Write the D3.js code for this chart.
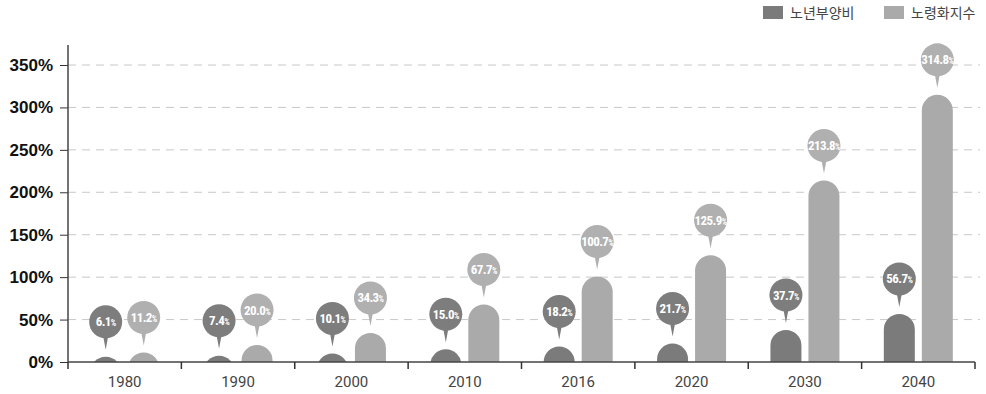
<!DOCTYPE html>
<html><head><meta charset="utf-8">
<script src="https://cdn.jsdelivr.net/npm/d3@7"></script>
<style>body{margin:0;background:#fff}svg{display:block}</style>
</head><body><svg id="c" width="986" height="394"></svg>
<script>
const categories = ["1980","1990","2000","2010","2016","2020","2030","2040"];
const seriesNames = ["노년부양비","노령화지수"];
const oldAgeDependency = [6.1,7.4,10.1,15.0,18.2,21.7,37.7,56.7];
const agingIndex = [11.2,20.0,34.3,67.7,100.7,125.9,213.8,314.8];
const yTicks = [0,50,100,150,200,250,300,350];
const colors = ["#7b7b7b","#aaaaaa"];
const bubbleColors = ["#7d7d7d","#b0b0b0"];

const svg = d3.select("#c");
const m = {l:68, r:11, t:45, b:32};
const W = 986, H = 394;
const x = d3.scaleBand().domain(categories).range([m.l, W - m.r]).paddingInner(0).paddingOuter(0);
const y = d3.scaleLinear().domain([0,350]).range([362, 65]);

// grid
svg.append("g").selectAll("line").data(yTicks.filter(d=>d>0)).join("line")
  .attr("x1", m.l).attr("x2", 980).attr("y1", d=>y(d)).attr("y2", d=>y(d))
  .attr("stroke","#c8c8c8").attr("stroke-width",1).attr("stroke-dasharray","8,6");

// y axis
const ya = svg.append("g").attr("transform",`translate(${m.l},0)`)
  .call(d3.axisLeft(y).tickValues(yTicks).tickSize(8).tickPadding(7).tickFormat(d=>d+"%"));
ya.select(".domain").remove();
ya.selectAll(".tick line").attr("stroke","#333");
ya.selectAll("text").attr("font-family","'Liberation Sans', Arial, sans-serif").attr("font-size",17).attr("font-weight",700).attr("fill","#111");
svg.append("line").attr("x1",m.l).attr("x2",m.l).attr("y1",m.t).attr("y2",362).attr("stroke","#444").attr("stroke-width",1.5);

// bars
const bw = 31, off = 19, r = bw/2;
svg.append("defs").append("clipPath").attr("id","clip").append("rect")
  .attr("x",0).attr("y",0).attr("width",W).attr("height",362);
const series = [oldAgeDependency, agingIndex];
const gBars = svg.append("g").attr("clip-path","url(#clip)");
const gBub = svg.append("g");
series.forEach((vals, si) => {
  vals.forEach((v, i) => {
    const cx = x(categories[i]) + x.bandwidth()/2 + (si===0 ? -off : off);
    const top = y(v);
    const bot = 362 + r + 2;
    const p = d3.path();
    p.moveTo(cx - r, bot);
    p.lineTo(cx - r, top + r);
    p.arc(cx, top + r, r, Math.PI, 0);
    p.lineTo(cx + r, bot);
    p.closePath();
    gBars.append("path").attr("d", p.toString()).attr("fill", colors[si]);
    // bubble
    const by = top - 35, br = 16.5;
    const g = gBub.append("g");
    g.append("path").attr("d", `M${cx-3},${by+12} L${cx+3},${by+12} L${cx},${top-7} Z`).attr("fill", bubbleColors[si]);
    g.append("circle").attr("cx",cx).attr("cy",by).attr("r",br).attr("fill",bubbleColors[si]);
    const t = g.append("text").attr("x",cx).attr("y",by+4.5).attr("text-anchor","middle")
      .attr("fill","#fff").attr("font-family","'Liberation Sans Narrow','Roboto Condensed','DejaVu Sans Condensed',sans-serif").attr("font-weight",700)
      .attr("letter-spacing",-0.6);
    t.append("tspan").attr("font-size",13).text(v.toFixed(1));
    t.append("tspan").attr("font-size",8.5).text("%");
  });
});

// x axis
svg.append("line").attr("x1",m.l).attr("x2",975).attr("y1",362).attr("y2",362).attr("stroke","#444").attr("stroke-width",1.5);
const bounds = categories.map(c=>x(c)).concat([x(categories[categories.length-1])+x.bandwidth()]);
svg.append("g").selectAll("line").data(bounds).join("line")
  .attr("x1",d=>d).attr("x2",d=>d).attr("y1",362).attr("y2",369).attr("stroke","#333").attr("stroke-width",1.5);
svg.append("g").selectAll("text").data(categories).join("text")
  .attr("x",d=>x(d)+x.bandwidth()/2).attr("y",387).attr("text-anchor","middle")
  .attr("font-family","Roboto, 'Noto Sans', sans-serif").attr("font-weight",400).attr("font-size",15).attr("fill","#444").text(d=>d);

// legend
const lg = svg.append("g");
const lx = [763, 884];
seriesNames.forEach((n, i) => {
  lg.append("rect").attr("x",lx[i]).attr("y",6).attr("width",20).attr("height",13).attr("fill",colors[i]);
  lg.append("text").attr("x",lx[i]+27).attr("y",18).attr("font-family","'Noto Sans CJK KR',sans-serif")
    .attr("font-size",14).attr("fill","#444").text(n);
});
</script></body></html>
